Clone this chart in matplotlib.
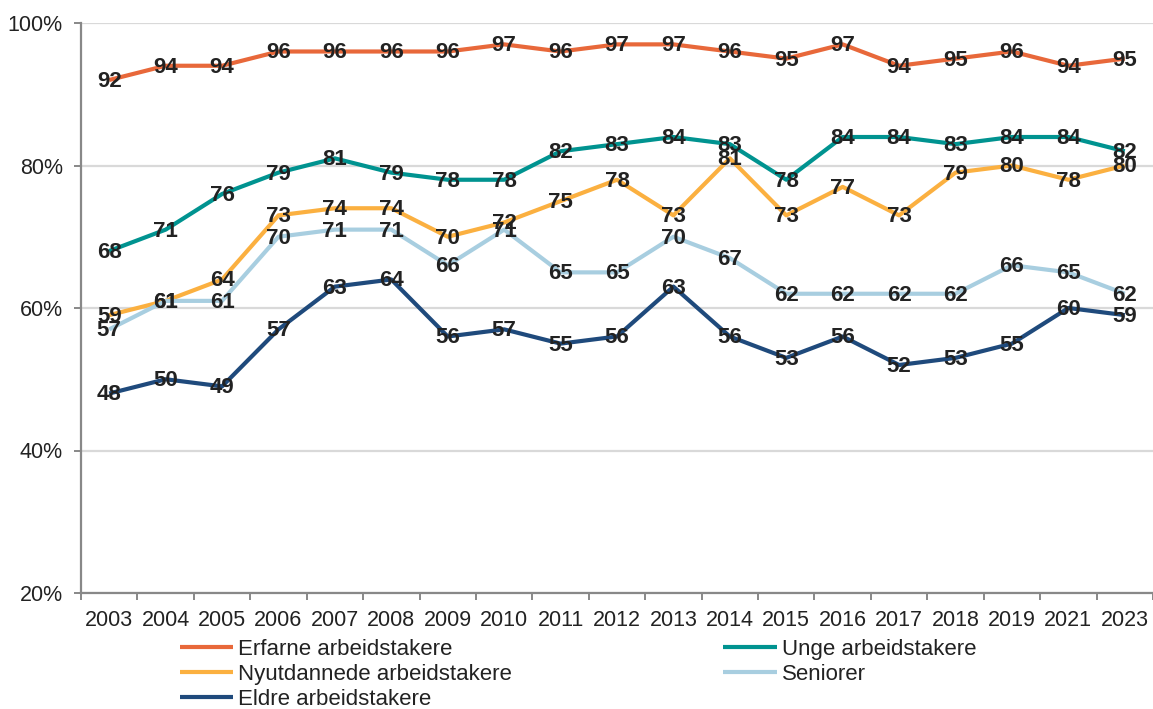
import matplotlib.pyplot as plt
from matplotlib.ticker import FixedLocator

years = ["2003", "2004", "2005", "2006", "2007", "2008", "2009", "2010", "2011", "2012",
         "2013", "2014", "2015", "2016", "2017", "2018", "2019", "2021", "2023"]

erfarne = [92, 94, 94, 96, 96, 96, 96, 97, 96, 97, 97, 96, 95, 97, 94, 95, 96, 94, 95]
unge = [68, 71, 76, 79, 81, 79, 78, 78, 82, 83, 84, 83, 78, 84, 84, 83, 84, 84, 82]
nyutdannede = [59, 61, 64, 73, 74, 74, 70, 72, 75, 78, 73, 81, 73, 77, 73, 79, 80, 78, 80]
seniorer = [57, 61, 61, 70, 71, 71, 66, 71, 65, 65, 70, 67, 62, 62, 62, 62, 66, 65, 62]
eldre = [48, 50, 49, 57, 63, 64, 56, 57, 55, 56, 63, 56, 53, 56, 52, 53, 55, 60, 59]

series = [
    ("Erfarne arbeidstakere", erfarne, "#E8683A"),
    ("Unge arbeidstakere", unge, "#009390"),
    ("Nyutdannede arbeidstakere", nyutdannede, "#FBB040"),
    ("Seniorer", seniorer, "#A8CEE0"),
    ("Eldre arbeidstakere", eldre, "#1F4A7C"),
]

plt.rcParams['font.family'] = ['Liberation Sans', 'DejaVu Sans']

fig = plt.figure(figsize=(11.53, 7.09), dpi=100)
ax = fig.add_axes([81 / 1153, 1 - 593 / 709, 1 - 81 / 1153, (593 - 23) / 709])

x = list(range(len(years)))
lines = {}
for name, vals, col in series:
    ln, = ax.plot(x, vals, color=col, lw=3, label=name, zorder=3, solid_capstyle='butt')
    lines[name] = ln

# datalabels ovenpå alle linjene
for name, vals, col in series:
    for xi, v in zip(x, vals):
        ax.text(xi, v - 0.2, str(v), ha='center', va='center', fontsize=16,
                fontweight='bold', color='#222222', zorder=5)

ax.set_xlim(-0.5, len(years) - 0.5)
ax.set_ylim(20, 100)
ax.set_yticks([20, 40, 60, 80, 100])
ax.set_yticklabels(["20%", "40%", "60%", "80%", "100%"])
ax.set_xticks(x)
ax.set_xticklabels(years)
ax.xaxis.set_minor_locator(FixedLocator([i - 0.5 for i in range(len(years) + 1)]))

ax.grid(axis='y', color='#D9D9D9', lw=1.6, zorder=0)
ax.set_axisbelow(True)
for s in ['top', 'right']:
    ax.spines[s].set_visible(False)
for s in ['left', 'bottom']:
    ax.spines[s].set_color('#888888')
    ax.spines[s].set_linewidth(1.6)

ax.tick_params(axis='y', labelsize=15.5, colors='#888888', labelcolor='#222222',
               length=5, width=1.4, pad=8)
ax.tick_params(axis='x', which='major', length=0, labelsize=15.5, labelcolor='#222222', pad=12)
ax.tick_params(axis='x', which='minor', length=5, width=1.4, color='#888888')

order = ["Erfarne arbeidstakere", "Nyutdannede arbeidstakere", "Eldre arbeidstakere",
         "Unge arbeidstakere", "Seniorer"]
leg = fig.legend([lines[n] for n in order], order, ncol=2, loc='upper left',
                 bbox_to_anchor=(180 / 1153, 1 - 639 / 709), frameon=False,
                 fontsize=16, handlelength=2.4, handletextpad=0.23,
                 columnspacing=9.5, labelspacing=0.17, borderaxespad=0, borderpad=0)
for t in leg.get_texts():
    t.set_color('#222222')

fig.savefig("out.png", dpi=100)
